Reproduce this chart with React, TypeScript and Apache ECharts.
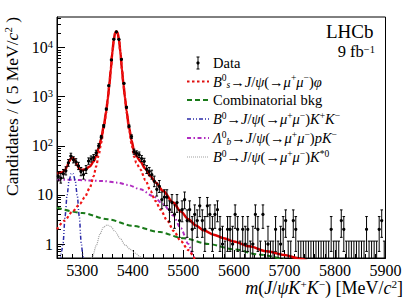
import React, { useEffect, useRef } from 'react';
import * as echarts from 'echarts';

const FONT = '"Liberation Serif", "Times New Roman", serif';

// ---- data: histogram (5 MeV bins from 5250 MeV) ----
const BIN_START = 5250;
const BIN_WIDTH = 5;
const COUNTS = [
  24, 22, 27, 31, 45, 62, 52, 47, 39, 30,
  26, 33, 49, 54, 58, 72, 100, 150, 255, 560,
  1680, 5600, 14800, 21000, 14700, 5750, 1860, 610, 250, 154,
  76, 70, 66, 55, 48, 33, 30, 26, 19, 13,
  15, 8, 9, 9, 5, 7, 4, 7, 3, 5,
  8, 3, 5, 2, 4, 3, 6, 3, 2, 6,
  4, 2, 4, 5, 2, 1, 0, 2, 2, 1,
  4, 2, 0, 2, 1, 2, 0, 1, 4, 2,
  0, 4, 0, 1, 0, 0, 2, 0, 1, 2,
  3, 0, 0, 3, 2, 0, 0, 0, 0, 0,
  0, 0, 0, 0, 0, 0, 0, 0, 2, 0,
  0, 0, 3, 2, 0, 0, 0, 0, 0, 0,
  0, 0, 2, 0, 0, 0, 0, 2, 3, 0,
];
// Poisson interval bounds for small counts
const POIS_LO = [0, 0.173, 0.708, 1.37, 2.09, 2.84, 3.62, 4.42, 5.23, 6.06, 6.89];
const POIS_HI = [1.148, 2.3, 3.63, 4.96, 6.27, 7.58, 8.88, 10.18, 11.47, 12.75, 14.0];

// ---- fit components (mass, candidates per 5 MeV) ----
const TOTAL_FIT = [
  [5250, 27.5], [5258, 28.3], [5262, 29.5], [5266, 32], [5270, 38.5], [5274, 48.5], [5278, 56], [5280, 57.5],
  [5282, 56.5], [5286, 49.5], [5290, 40], [5294, 34.5], [5298, 32], [5305, 33], [5315, 38], [5322.5, 48],
  [5327.5, 62], [5332.5, 90], [5337.5, 140], [5342.5, 255], [5347.5, 505], [5350.5, 920], [5353.5, 1720],
  [5356.5, 3620], [5359.5, 8020], [5362.5, 15000], [5365, 19800], [5367.5, 21500], [5370, 19800],
  [5372.5, 15000], [5375.5, 8020], [5378.5, 3620], [5381.5, 1770], [5384.5, 970], [5387.5, 520],
  [5392.5, 240], [5397.5, 129], [5402.5, 78], [5407, 62], [5415, 48], [5425, 34], [5435, 24], [5445, 18],
  [5460, 12], [5480, 7], [5495, 4.6], [5510, 3.2], [5525, 2.4], [5540, 1.9], [5560, 1.55], [5580, 1.32],
  [5600, 1.13], [5630, 0.9], [5665, 0.71], [5700, 0.6], [5725, 0.52], [5745, 0.46],
];
const SIGNAL = [
  [5250, 2.0], [5265, 3.0], [5280, 4.5], [5295, 6.5], [5305, 9], [5315, 14], [5322.5, 24], [5327.5, 38],
  [5332.5, 65], [5337.5, 115], [5342.5, 230], [5347.5, 480], [5350.5, 900], [5353.5, 1700], [5356.5, 3600],
  [5359.5, 8000], [5362.5, 15000], [5365, 19800], [5367.5, 21500], [5370, 19800], [5372.5, 15000],
  [5375.5, 8000], [5378.5, 3600], [5381.5, 1750], [5384.5, 950], [5387.5, 500], [5392.5, 220], [5397.5, 110],
  [5402.5, 60], [5407, 45], [5415, 33], [5425, 20], [5435, 12], [5445, 7.5], [5455, 5], [5468, 3],
  [5481, 1.85], [5495, 1.15], [5510, 0.75], [5524, 0.5], [5535, 0.38],
];
const COMBINATORIAL = [
  [5250, 5.5], [5300, 4.3], [5350, 3.2], [5400, 2.35], [5450, 1.78], [5500, 1.32], [5550, 1.0],
  [5600, 0.78], [5650, 0.61], [5700, 0.48],
];
const B0_KK = [
  [5256, 0.4], [5259, 0.7], [5262, 1.05], [5266, 3.7], [5270, 10], [5274, 19.7], [5278, 27], [5280, 28],
  [5282, 27], [5286, 19.7], [5290, 10], [5294, 3.7], [5298, 1.05], [5301, 0.6], [5304, 0.35],
];
const LB_PK = [
  [5250, 20.5], [5280, 20.3], [5310, 19.8], [5340, 19.2], [5370, 17.8], [5390, 16], [5415, 13], [5440, 9.5],
  [5460, 6.5], [5480, 3.8], [5495, 2.1], [5510, 1.0], [5520, 0.55], [5526, 0.4],
];
const B0_KSTAR = [
  [5316, 0.4], [5320, 0.55], [5328, 0.95], [5335, 1.6], [5342, 2.2], [5349, 2.45], [5356, 2.3], [5365, 1.8],
  [5375, 1.3], [5385, 0.95], [5395, 0.78], [5405, 0.65], [5415, 0.55], [5425, 0.46],
];

// ---- axes ----
const X_MIN = 5250;
const X_MAX = 5900;
const X_LABELS = [5300, 5400, 5500, 5600, 5700, 5800, 5900];
const Y_MIN = 0.52;
const Y_MAX = 42000;
const Y_LABELS = [1, 10, 100, 1000, 10000];

const X_MINOR: number[] = [];
for (let v = 5260; v <= X_MAX; v += 20) X_MINOR.push(v);
const Y_MINOR: number[] = [];
for (let d = 0.1; d <= 10000; d *= 10) {
  for (let k = 2; k <= 9; k++) {
    const v = +(k * d).toPrecision(3);
    if (v >= Y_MIN && v <= Y_MAX) Y_MINOR.push(v);
  }
}

const poisLo = (n: number) => (n <= 10 ? POIS_LO[n] : n - Math.sqrt(n) + 0.1);
const poisHi = (n: number) => (n <= 10 ? POIS_HI[n] : n + Math.sqrt(n) + 0.8);

const histData = COUNTS.map((n, i) => [
  BIN_START + BIN_WIDTH * (i + 0.5),
  poisHi(n),
  poisLo(n),
  n,
]);

const sup = (t: string) => `{sup|${t}}`;
const it = (t: string) => `{i|${t}}`;

export default function App() {
  const ref = useRef<HTMLDivElement>(null);
  useEffect(() => {
    const chart = echarts.init(ref.current!, null, { renderer: 'svg' });

    const curve = (name: string, data: number[][], color: string, width: number, type: any, z: number) => ({
      name,
      type: 'line',
      data,
      smooth: 0.3,
      smoothMonotone: 'x',
      showSymbol: false,
      symbol: 'none',
      clip: true,
      z,
      lineStyle: { color, width, type },
      xAxisIndex: 0,
      yAxisIndex: 0,
    });

    const LF = 14.5;
    const legRich: any = {
      i: { fontSize: LF, fontFamily: FONT, fontStyle: 'italic', fill: '#000', lineHeight: 17 },
      sup: { fontSize: 9.5, fontFamily: FONT, fill: '#000', lineHeight: 7, verticalAlign: 'top' },
      sub: { fontSize: 9.5, fontFamily: FONT, fontStyle: 'italic', fill: '#000', lineHeight: 7, verticalAlign: 'bottom' },
      n: { fontSize: LF, fontFamily: FONT, fill: '#000', lineHeight: 17 },
    };
    const rowsY = [63, 81.5, 100, 119, 138, 157];
    const symX0 = 187;
    const symX1 = 209;
    const textX = 213;
    const legendTexts = [
      'Data',
      `${it('B')}${sup('0')}{sub|s}→${it('J')}/${it('ψ')}(→${it('μ')}${sup('+')}${it('μ')}${sup('−')})${it('φ')}`,
      'Combinatorial bkg',
      `${it('B')}${sup('0')}→${it('J')}/${it('ψ')}(→${it('μ')}${sup('+')}${it('μ')}${sup('−')})${it('K')}${sup('+')}${it('K')}${sup('−')}`,
      `${it('Λ')}${sup('0')}{sub|b}→${it('J')}/${it('ψ')}(→${it('μ')}${sup('+')}${it('μ')}${sup('−')})${it('pK')}${sup('−')}`,
      `${it('B')}${sup('0')}→${it('J')}/${it('ψ')}(→${it('μ')}${sup('+')}${it('μ')}${sup('−')})${it('K')}${sup('*0')}`,
    ];
    const legendLines = [
      null,
      { stroke: '#e01010', lineWidth: 2.2, lineDash: [2.5, 2.5] },
      { stroke: '#1a7a1a', lineWidth: 2, lineDash: [5, 3] },
      { stroke: '#2a2aa8', lineWidth: 1.5, lineDash: [4, 2, 1, 2, 1, 2] },
      { stroke: '#b02cc0', lineWidth: 2, lineDash: [4, 2.5, 1.5, 2.5] },
      { stroke: '#a0a0a0', lineWidth: 1.2, lineDash: [1, 1] },
    ];
    const legendEls: any[] = [];
    rowsY.forEach((y, k) => {
      const ls = legendLines[k];
      if (ls) {
        legendEls.push({ type: 'line', shape: { x1: symX0, y1: y, x2: symX1, y2: y }, style: { ...ls, fill: null } });
      } else {
        const cx = (symX0 + symX1) / 2;
        legendEls.push({ type: 'line', shape: { x1: cx, y1: y - 6, x2: cx, y2: y + 6 }, style: { stroke: '#000', lineWidth: 1 } });
        legendEls.push({ type: 'line', shape: { x1: cx - 1.5, y1: y - 6, x2: cx + 1.5, y2: y - 6 }, style: { stroke: '#000', lineWidth: 1 } });
        legendEls.push({ type: 'line', shape: { x1: cx - 1.5, y1: y + 6, x2: cx + 1.5, y2: y + 6 }, style: { stroke: '#000', lineWidth: 1 } });
        legendEls.push({ type: 'circle', shape: { cx, cy: y, r: 1.6 }, style: { fill: '#000' } });
      }
      const txt = legendTexts[k].includes('{') ? legendTexts[k] : `{n|${legendTexts[k]}}`;
      legendEls.push({
        type: 'text',
        x: textX,
        y,
        style: { text: txt, rich: legRich, fontSize: LF, fontFamily: FONT, fill: '#000', align: 'left', verticalAlign: 'middle' },
      });
    });

    const titleRich = (fs: number): any => ({
      n: { fontSize: fs, fontFamily: FONT, fill: '#000', lineHeight: fs + 1 },
      i: { fontSize: fs, fontFamily: FONT, fontStyle: 'italic', fill: '#000', lineHeight: fs + 1 },
      sup: { fontSize: fs * 0.62, fontFamily: FONT, fill: '#000', lineHeight: fs * 0.5, verticalAlign: 'top' },
    });

    const option: any = {
      animation: false,
      backgroundColor: '#fff',
      grid: {
        left: 57,
        top: 17,
        width: 328.5,
        height: 241,
        show: true,
        borderColor: '#000',
        borderWidth: 1,
        backgroundColor: 'transparent',
        containLabel: false,
      },
      xAxis: [
        {
          type: 'value',
          min: X_MIN,
          max: X_MAX,
          position: 'bottom',
          axisLine: { show: true, lineStyle: { color: '#000', width: 1 } },
          axisTick: { show: true, inside: true, length: 8, customValues: X_LABELS, lineStyle: { color: '#000', width: 1 } },
          axisLabel: {
            customValues: X_LABELS,
            formatter: (v: number) => String(v),
            fontSize: 16,
            fontFamily: FONT,
            color: '#000',
            margin: 4,
          },
          splitLine: { show: false },
        },
        {
          type: 'value',
          min: X_MIN,
          max: X_MAX,
          position: 'bottom',
          offset: 0,
          axisLine: { show: false },
          axisTick: { show: true, inside: true, length: 4, customValues: X_MINOR, lineStyle: { color: '#000', width: 1 } },
          axisLabel: { show: false },
          splitLine: { show: false },
        },
      ],
      yAxis: [
        {
          type: 'log',
          logBase: 10,
          min: Y_MIN,
          max: Y_MAX,
          position: 'left',
          axisLine: { show: true, lineStyle: { color: '#000', width: 1 } },
          axisTick: { show: true, inside: true, length: 8, customValues: Y_LABELS, lineStyle: { color: '#000', width: 1 } },
          axisLabel: {
            customValues: Y_LABELS,
            fontSize: 16,
            fontFamily: FONT,
            color: '#000',
            margin: 4,
            formatter: (v: number) => {
              const e = Math.round(Math.log10(v));
              if (e === 0) return '1';
              if (e === 1) return '10';
              return `{b|10}{s|${e}}`;
            },
            rich: {
              b: { fontSize: 16, fontFamily: FONT, color: '#000', lineHeight: 18 },
              s: { fontSize: 10.5, fontFamily: FONT, color: '#000', lineHeight: 8, verticalAlign: 'top' },
            },
          },
          splitLine: { show: false },
        },
        {
          type: 'log',
          logBase: 10,
          min: Y_MIN,
          max: Y_MAX,
          position: 'left',
          offset: 0,
          axisLine: { show: false },
          axisTick: { show: true, inside: true, length: 4, customValues: Y_MINOR, lineStyle: { color: '#000', width: 1 } },
          axisLabel: { show: false },
          splitLine: { show: false },
        },
      ],
      series: [
        curve('B0→J/ψK*0', B0_KSTAR, '#a0a0a0', 1.2, [1, 1], 2),
        curve('Λb→J/ψpK', LB_PK, '#b02cc0', 2, [4, 2.5, 1.5, 2.5], 3),
        curve('B0→J/ψKK', B0_KK, '#2a2aa8', 1.5, [4, 2, 1, 2, 1, 2], 3),
        curve('Combinatorial bkg', COMBINATORIAL, '#1a7a1a', 2, [5, 3], 3),
        curve('Total fit', TOTAL_FIT, '#dd0000', 2.5, 'solid', 4),
        curve('Bs→J/ψφ', SIGNAL, '#f01515', 2.2, [2.5, 2.5], 5),
        {
          name: 'Data',
          type: 'custom',
          xAxisIndex: 0,
          yAxisIndex: 0,
          z: 10,
          data: histData,
          encode: { x: 0, y: 1 },
          renderItem: (params: any, api: any) => {
            const m = api.value(0);
            const hi = api.value(1);
            const lo = api.value(2);
            const n = api.value(3);
            const top = api.coord([m, hi]);
            const bot = api.coord([m, Math.max(lo, Y_MIN)]);
            const x = top[0];
            const st = { stroke: '#000', lineWidth: 1 };
            const cw = 1.3;
            const children: any[] = [
              { type: 'line', shape: { x1: x, y1: top[1], x2: x, y2: bot[1] }, style: st },
              { type: 'line', shape: { x1: x - cw, y1: top[1], x2: x + cw, y2: top[1] }, style: st },
            ];
            if (lo > Y_MIN) {
              children.push({ type: 'line', shape: { x1: x - cw, y1: bot[1], x2: x + cw, y2: bot[1] }, style: st });
            }
            if (n > 0) {
              const c = api.coord([m, n]);
              const l = api.coord([m - BIN_WIDTH / 2, n]);
              const r = api.coord([m + BIN_WIDTH / 2, n]);
              children.push({ type: 'line', shape: { x1: l[0], y1: c[1], x2: r[0], y2: c[1] }, style: st });
              children.push({ type: 'circle', shape: { cx: c[0], cy: c[1], r: 1.6 }, style: { fill: '#000' } });
            }
            return { type: 'group', children };
          },
        },
      ],
      graphic: [
        ...legendEls,
        {
          type: 'text',
          x: 373.5,
          y: 31,
          style: { text: 'LHCb', fontSize: 19, lineHeight: 18, fontFamily: FONT, fill: '#000', align: 'right', verticalAlign: 'middle' },
        },
        {
          type: 'text',
          x: 375,
          y: 51,
          style: {
            text: `{n|9 fb}{sup|−1}`,
            rich: {
              n: { fontSize: 16.5, fontFamily: FONT, fill: '#000', lineHeight: 15 },
              sup: { fontSize: 10.5, fontFamily: FONT, fill: '#000', lineHeight: 7, verticalAlign: 'top' },
            },
            fontSize: 16.5,
            fontFamily: FONT,
            fill: '#000',
            align: 'right',
            verticalAlign: 'middle',
          },
        },
        {
          type: 'text',
          x: 403,
          y: 288,
          style: {
            text: `{i|m}{n|(}{i|J}{n|/}{i|ψK}{sup|+}{i|K}{sup|−}{n|) [MeV/}{i|c}{sup|2}{n|]}`,
            rich: titleRich(18),
            fontSize: 18,
            fontFamily: FONT,
            fill: '#000',
            align: 'right',
            verticalAlign: 'middle',
          },
        },
        {
          type: 'text',
          x: 12,
          y: 17,
          rotation: Math.PI / 2,
          style: {
            text: `{n|Candidates / ( 5 MeV/}{i|c}{sup|2}{n| )}`,
            rich: titleRich(17.5),
            fontSize: 17.5,
            fontFamily: FONT,
            fill: '#000',
            align: 'right',
            verticalAlign: 'middle',
          },
        },
      ],
    };
    chart.setOption(option);
    return () => chart.dispose();
  }, []);
  return (
    <div
      ref={ref}
      style={{ position: 'absolute', left: 0, top: 0, width: 407, height: 301, background: '#fff' }}
    />
  );
}
